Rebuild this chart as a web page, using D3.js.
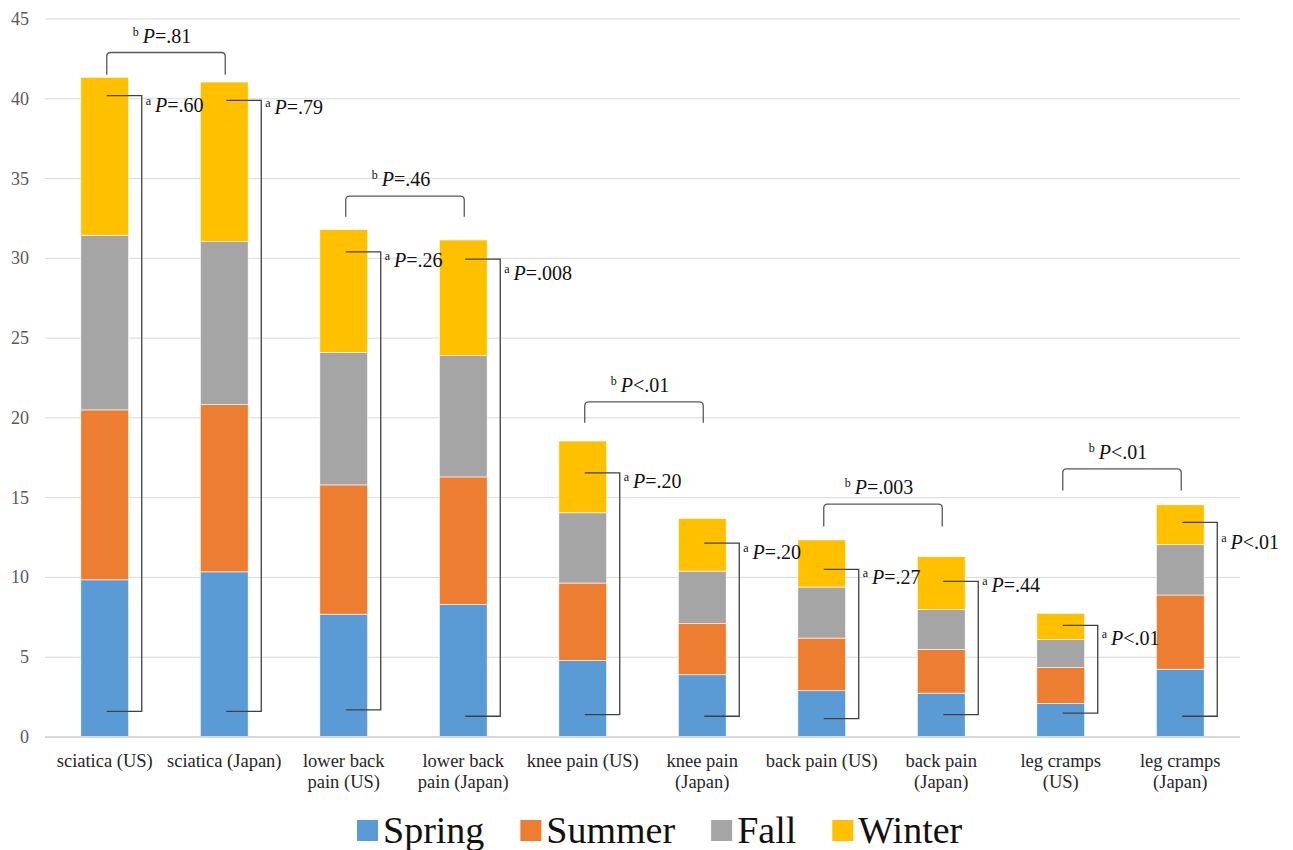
<!DOCTYPE html>
<html>
<head>
<meta charset="utf-8">
<script src="https://cdn.jsdelivr.net/npm/d3@7"></script>
<style>
  body { margin: 0; background: #fff; }
</style>
</head>
<body>
<script>
var categories = ['sciatica (US)', 'sciatica (Japan)', 'lower back\npain (US)', 'lower back\npain (Japan)',
  'knee pain (US)', 'knee pain\n(Japan)', 'back pain (US)', 'back pain\n(Japan)', 'leg cramps\n(US)', 'leg cramps\n(Japan)'];
var seasons = ['Spring', 'Summer', 'Fall', 'Winter'];
var colors = ['#5b9bd5', '#ed7d31', '#a5a5a5', '#ffc000'];

var spring = [9.85, 10.35, 7.7, 8.3, 4.8, 3.9, 2.9, 2.75, 2.1, 4.25];
var summer = [10.65, 10.5, 8.1, 8.0, 4.85, 3.2, 3.3, 2.75, 2.25, 4.65];
var fall   = [10.95, 10.2, 8.3, 7.6, 4.4, 3.3, 3.2, 2.5, 1.75, 3.15];
var winter = [9.9, 10.0, 7.7, 7.25, 4.5, 3.3, 2.95, 3.3, 1.65, 2.5];

var yTicks = [0, 5, 10, 15, 20, 25, 30, 35, 40, 45];

// within-country season test brackets (a)
var aTop    = [40.2, 39.9, 30.4, 29.95, 16.55, 12.15, 10.5, 9.75, 7.0, 13.45];
var aBottom = [1.6, 1.6, 1.7, 1.3, 1.4, 1.3, 1.15, 1.4, 1.5, 1.3];
var aLabelY = [39.6, 39.5, 29.9, 29.1, 16.05, 11.6, 10.0, 9.5, 6.2, 12.25];
var aLabels = ['=.60', '=.79', '=.26', '=.008', '=.20', '=.20', '=.27', '=.44', '<.01', '<.01'];

// US vs Japan brackets (b)
var bPairs  = [[0, 1], [2, 3], [4, 5], [6, 7], [8, 9]];
var bTop    = [42.9, 33.9, 21.0, 14.6, 16.8];
var bLeg    = [41.5, 32.6, 19.7, 13.2, 15.45];
var bLabels = ['=.81', '=.46', '<.01', '=.003', '<.01'];

var width = 1293, height = 850;
var svg = d3.select('body').append('svg')
  .attr('width', width)
  .attr('height', height)
  .attr('font-family', "'Liberation Serif', 'DejaVu Serif', serif");

var x = d3.scaleBand().domain(categories).range([45, 1240]).paddingInner(0.6).paddingOuter(0.3);
var y = d3.scaleLinear().domain([0, 45]).range([737, 19]);

// grid
svg.selectAll('.grid').data(yTicks.slice(1))
  .enter().append('line')
    .attr('x1', 45).attr('x2', 1240)
    .attr('y1', function(d){return y(d);})
    .attr('y2', function(d){return y(d);})
    .style('stroke', '#d9d9d9')
    .style('stroke-width', 1);

svg.selectAll('.ytick').data(yTicks)
  .enter().append('text')
    .attr('x', 29)
    .attr('y', function(d){return y(d) + 6;})
    .attr('text-anchor', 'end')
    .style('font-size', '18px')
    .style('fill', '#595959')
    .text(function(d){return d;});

// stacked bars
var rows = categories.map(function(c, i){
  return {cat: c, Spring: spring[i], Summer: summer[i], Fall: fall[i], Winter: winter[i]};
});
var stacked = d3.stack().keys(seasons)(rows);

svg.selectAll('.layer').data(stacked)
  .enter().append('g')
    .style('fill', function(d, i){return colors[i];})
  .selectAll('rect').data(function(d){return d;})
  .enter().append('rect')
    .attr('x', function(d){return x(d.data.cat);})
    .attr('y', function(d){return y(d[1]);})
    .attr('width', x.bandwidth())
    .attr('height', function(d){return y(d[0]) - y(d[1]);})
    .style('stroke', '#fff')
    .style('stroke-width', 0.6);

// baseline
svg.append('line')
  .attr('x1', 45).attr('x2', 1240)
  .attr('y1', y(0)).attr('y2', y(0))
  .style('stroke', '#d9d9d9')
  .style('stroke-width', 2);

// x labels
var xl = svg.selectAll('.xlab').data(categories)
  .enter().append('text')
    .attr('x', function(d){return x(d) + x.bandwidth()/2;})
    .attr('y', 767)
    .attr('text-anchor', 'middle')
    .style('font-size', '18.5px')
    .style('fill', '#262626');
xl.each(function(d){
  var lines = d.split('\n');
  var t = d3.select(this);
  lines.forEach(function(l, i){
    t.append('tspan')
      .attr('x', x(d) + x.bandwidth()/2)
      .attr('dy', i === 0 ? 0 : 21)
      .text(l);
  });
});

function pLabel(sel, sup, rest){
  sel.append('tspan').style('font-size', '12px').attr('dy', -7).text(sup);
  sel.append('tspan').attr('dx', 4).attr('dy', 7).style('font-style', 'italic').text('P');
  sel.append('tspan').text(rest);
}

// a brackets
categories.forEach(function(c, i){
  var cx = x(c) + x.bandwidth()/2;
  var xr = cx + 37;
  svg.append('path')
    .attr('d', 'M' + (cx + 2) + ',' + y(aTop[i]) + 'H' + xr + 'V' + y(aBottom[i]) + 'H' + (cx + 2))
    .style('fill', 'none')
    .style('stroke', '#404040')
    .style('stroke-width', 1.3);
  var t = svg.append('text')
    .attr('x', xr + 4)
    .attr('y', y(aLabelY[i]) + 7)
    .style('font-size', '20px')
    .style('fill', '#111');
  pLabel(t, 'a', aLabels[i]);
});

// b brackets
bPairs.forEach(function(p, i){
  var x1 = x(categories[p[0]]) + x.bandwidth()/2 + 2;
  var x2 = x(categories[p[1]]) + x.bandwidth()/2 + 1;
  var yt = y(bTop[i]), yl = y(bLeg[i]), r = 4;
  var path = d3.path();
  path.moveTo(x1, yl);
  path.lineTo(x1, yt + r);
  path.quadraticCurveTo(x1, yt, x1 + r, yt);
  path.lineTo(x2 - r, yt);
  path.quadraticCurveTo(x2, yt, x2, yt + r);
  path.lineTo(x2, yl);
  svg.append('path')
    .attr('d', path.toString())
    .style('fill', 'none')
    .style('stroke', '#595959')
    .style('stroke-width', 1.3);
  var t = svg.append('text')
    .attr('x', (x1 + x2)/2 - 4)
    .attr('y', yt - 10)
    .attr('text-anchor', 'middle')
    .style('font-size', '20px')
    .style('fill', '#111');
  pLabel(t, 'b', bLabels[i]);
});

// legend
var legend = svg.append('g');
var lx = 357;
seasons.forEach(function(s, i){
  legend.append('rect')
    .attr('x', lx).attr('y', 820)
    .attr('width', 21).attr('height', 21)
    .style('fill', colors[i]);
  var t = legend.append('text')
    .attr('x', lx + 26)
    .attr('y', 843)
    .style('font-size', '38px')
    .style('fill', '#111')
    .text(s);
  lx += 26 + t.node().getComputedTextLength() + 36;
});
</script>
</body>
</html>
